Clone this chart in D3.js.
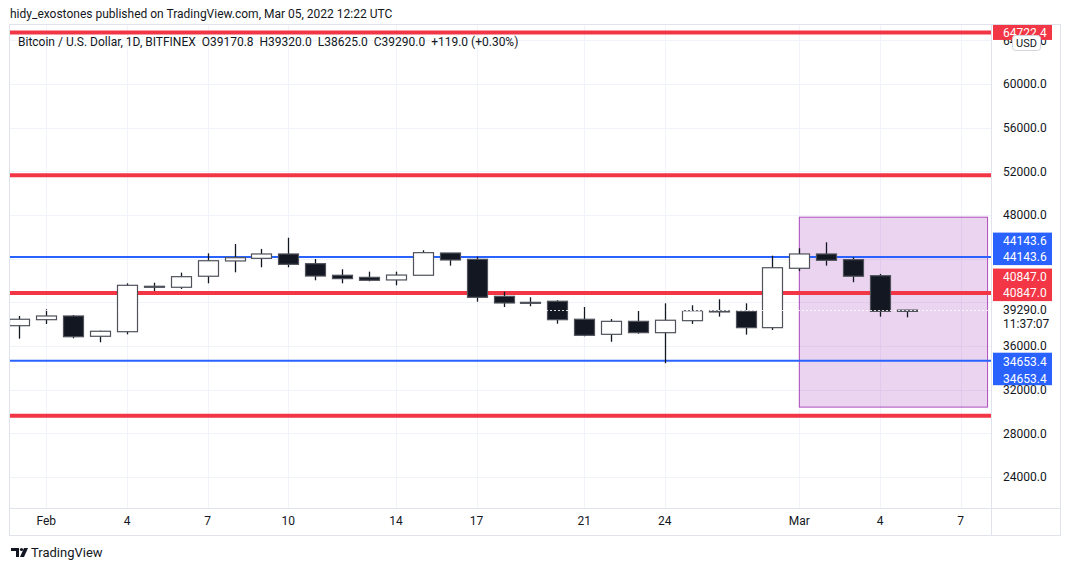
<!DOCTYPE html>
<html>
<head>
<meta charset="utf-8">
<script src="https://cdn.jsdelivr.net/npm/d3@7"></script>
<style>
  html, body { margin: 0; padding: 0; background: #fff; }
  svg { display: block; font-family: Roboto, "Noto Sans", sans-serif; }
</style>
</head>
<body>
<script>
// daily candles, BTC/USD, Jan 31 - Mar 5 2022
const dates = ["2022-01-31","2022-02-01","2022-02-02","2022-02-03","2022-02-04","2022-02-05","2022-02-06",
  "2022-02-07","2022-02-08","2022-02-09","2022-02-10","2022-02-11","2022-02-12","2022-02-13","2022-02-14",
  "2022-02-15","2022-02-16","2022-02-17","2022-02-18","2022-02-19","2022-02-20","2022-02-21","2022-02-22",
  "2022-02-23","2022-02-24","2022-02-25","2022-02-26","2022-02-27","2022-02-28","2022-03-01","2022-03-02",
  "2022-03-03","2022-03-04","2022-03-05"];
const opens  = [37860,38410,38750,36890,37310,41470,41380,42390,43790,44030,44430,43540,42480,42290,42050,
  42480,44520,43940,40550,40000,40100,38450,37070,38260,37220,38320,39210,39180,37680,43120,44430,43910,42440,39170.8];
const highs  = [38750,39360,38840,37400,41740,41800,42720,44490,45340,44890,45920,43970,43030,42810,42810,
  44770,44520,44180,40970,40460,40190,39570,38470,39210,39910,39730,40280,39910,44270,44950,45500,44130,42600,39320];
const lows   = [36670,38020,36710,36340,37070,41040,41220,41740,42750,43210,43210,42020,41740,41930,41560,
  42480,43360,40060,39570,39640,38040,36890,36390,37130,34420,38020,38690,37040,37470,42870,43360,41840,38690,38625];
const closes = [38450,38750,36850,37350,41560,41420,42350,43810,44090,44430,43480,42410,42170,42020,42500,
  44550,43880,40460,39940,39990,38410,36980,38260,37220,38360,39230,39120,37680,43170,44430,43850,42390,39180,39290];

const priceTicks = [24000,28000,32000,36000,40000,44000,48000,52000,56000,60000,64000];
const shownTicks = [24000,28000,32000,36000,48000,52000,56000,60000,64000];
const dateTicks = ["2022-02-01","2022-02-04","2022-02-07","2022-02-10","2022-02-14","2022-02-17",
  "2022-02-21","2022-02-24","2022-03-01","2022-03-04","2022-03-07"];
const dateLabels = ["Feb","4","7","10","14","17","21","24","Mar","4","7"];

const redLevels  = [64722.4, 51650, 40847.0, 29600];
const blueLevels = [44143.6, 34653.4];
const labelledRed  = [64722.4, 40847.0];
const labelledBlue = [44143.6, 34653.4];
const zoneDates  = ["2022-03-01","2022-03-08"];
const zonePrices = [47800, 30400];
const lastClose = 39290.0;
const countdown = "11:37:07";

const W = 1070, H = 571;
const plotL = 10, plotR = 991, plotT = 25, plotB = 508;
const parse = d3.utcParse("%Y-%m-%d");

const x = d3.scaleUtc().domain([parse("2022-02-04"), parse("2022-03-04")]).range([127, 880]);
const y = d3.scaleLinear().domain([24000, 60000]).range([477, 84]);
const dayW = x(parse("2022-02-05")) - x(parse("2022-02-04"));
const bodyW = Math.round(dayW * 0.75);

const candles = dates.map((d, i) => ({ date: parse(d), o: opens[i], h: highs[i], l: lows[i], c: closes[i] }));

const svg = d3.select("body").append("svg").attr("width", W).attr("height", H);
const fmt = d3.format(".1f");

// header
svg.append("text").attr("x", 10).attr("y", 18).attr("font-size", 12).attr("fill", "#131722")
   .text("hidy_exostones published on TradingView.com, Mar 05, 2022 12:22 UTC");

// frame
svg.append("rect").attr("x", plotL - 0.5).attr("y", plotT - 0.5).attr("width", 1061 - plotL).attr("height", 536 - plotT)
   .attr("fill", "#fff").attr("stroke", "#e0e3eb");
svg.append("line").attr("x1", plotR + 0.5).attr("x2", plotR + 0.5).attr("y1", plotT).attr("y2", 536).attr("stroke", "#e0e3eb");
svg.append("line").attr("x1", plotL).attr("x2", 1061).attr("y1", plotB + 0.5).attr("y2", plotB + 0.5).attr("stroke", "#e0e3eb");

const plot = svg.append("g");
plot.append("clipPath").attr("id", "clip").append("rect")
    .attr("x", plotL).attr("y", plotT).attr("width", plotR - plotL).attr("height", plotB - plotT);
const g = plot.append("g").attr("clip-path", "url(#clip)");

// grid
g.selectAll(".hg").data(priceTicks).enter().append("line")
 .attr("x1", plotL).attr("x2", plotR).attr("y1", d => Math.round(y(d)) + 0.5).attr("y2", d => Math.round(y(d)) + 0.5)
 .attr("stroke", "#f0f3fa");
g.selectAll(".vg").data(dateTicks).enter().append("line")
 .attr("x1", d => Math.round(x(parse(d))) + 0.5).attr("x2", d => Math.round(x(parse(d))) + 0.5)
 .attr("y1", plotT).attr("y2", plotB).attr("stroke", "#f0f3fa");

// zone
g.append("rect")
 .attr("x", x(parse(zoneDates[0]))).attr("y", y(zonePrices[0]))
 .attr("width", x(parse(zoneDates[1])) - x(parse(zoneDates[0])))
 .attr("height", y(zonePrices[1]) - y(zonePrices[0]))
 .attr("fill", "rgba(156,39,176,0.2)").attr("stroke", "#9c27b0").attr("stroke-opacity", 0.8);

// level lines
g.selectAll(".red").data(redLevels).enter().append("line")
 .attr("x1", plotL).attr("x2", plotR).attr("y1", d => y(d)).attr("y2", d => y(d))
 .attr("stroke", "#f23645").attr("stroke-width", 4);
g.selectAll(".blue").data(blueLevels).enter().append("line")
 .attr("x1", plotL).attr("x2", plotR).attr("y1", d => y(d)).attr("y2", d => y(d))
 .attr("stroke", "#2962ff").attr("stroke-width", 2);

// candles
const cg = g.selectAll(".candle").data(candles).enter().append("g");
cg.append("line")
  .attr("x1", d => Math.round(x(d.date)) + 0.5).attr("x2", d => Math.round(x(d.date)) + 0.5)
  .attr("y1", d => y(d.h)).attr("y2", d => y(d.l))
  .attr("stroke", "#131722").attr("stroke-width", 1.3);
cg.append("rect")
  .attr("x", d => Math.round(x(d.date) - bodyW / 2) + 0.5)
  .attr("y", d => y(Math.max(d.o, d.c)))
  .attr("width", bodyW)
  .attr("height", d => Math.max(1, Math.abs(y(d.o) - y(d.c))))
  .attr("fill", d => d.c >= d.o ? "#ffffff" : "#131722")
  .attr("stroke", d => d.c >= d.o ? "#4f525b" : "#4f525b")
  .attr("stroke-width", 1.2);

// last price dotted line
g.append("line").attr("x1", plotL).attr("x2", plotR)
 .attr("y1", Math.round(y(lastClose)) + 0.5).attr("y2", Math.round(y(lastClose)) + 0.5)
 .attr("stroke", "#ffffff").attr("stroke-opacity", 0.85).attr("stroke-dasharray", "2,2");

// price axis labels
const ax = svg.append("g").attr("font-size", 12).attr("fill", "#131722");
ax.selectAll(".pt").data(shownTicks).enter().append("text")
  .attr("x", 1003).attr("y", d => y(d)).attr("dy", "0.35em").text(d => fmt(d));

ax.append("text").attr("x", 1003).attr("y", y(lastClose)).attr("dy", "0.35em").text(fmt(lastClose));
ax.append("text").attr("x", 1003).attr("y", y(lastClose) + 13.5).attr("dy", "0.35em").text(countdown);

function levelLabel(v, color) {
  const yy = y(v);
  const down = v < lastClose;
  const rows = (v > 60000) ? [0] : (down ? [1.5, 18] : [-16.5, -0.5]);
  const top = (v > 60000) ? yy - 7.5 : (down ? yy - 8 : yy - 24.5);
  const h = (v > 60000) ? 15 : 32.5;
  ax.append("rect").attr("x", 993).attr("y", top).attr("width", 59).attr("height", h).attr("fill", color);
  rows.forEach(r => ax.append("text").attr("x", 1003).attr("y", yy + r).attr("dy", "0.35em")
     .attr("fill", "#fff").text(fmt(v)));
}
labelledBlue.forEach(v => levelLabel(v, "#2962ff"));
labelledRed.forEach(v => levelLabel(v, "#f23645"));

// USD badge
svg.append("rect").attr("x", 1012.5).attr("y", 35.5).attr("width", 28).attr("height", 15).attr("rx", 3)
   .attr("fill", "#fff").attr("stroke", "#d1d4dc");
svg.append("text").attr("x", 1026.5).attr("y", 43).attr("dy", "0.35em").attr("text-anchor", "middle")
   .attr("font-size", 11).attr("fill", "#131722").text("USD");

// legend
svg.append("text").attr("x", 18).attr("y", 42).attr("dy", "0.35em").attr("font-size", 12).attr("fill", "#131722")
   .style("white-space", "pre")
   .text("Bitcoin / U.S. Dollar, 1D, BITFINEX  O39170.8  H39320.0  L38625.0  C39290.0  +119.0 (+0.30%)");

// time axis
svg.append("g").attr("font-size", 12).attr("fill", "#131722")
   .selectAll("text").data(dateTicks).enter().append("text")
   .attr("x", d => x(parse(d))).attr("y", 521).attr("dy", "0.35em").attr("text-anchor", "middle")
   .text((d, i) => dateLabels[i]);

// logo
const logo = svg.append("g").attr("fill", "#131722");
logo.append("path").attr("d", "M11 548 h8 v9 h-3 v-6 h-5 z");
logo.append("circle").attr("cx", 21.5).attr("cy", 549.5).attr("r", 1.6);
logo.append("path").attr("d", "M24 548 h4 l-4 9 h-4 z");
svg.append("text").attr("x", 31).attr("y", 557).attr("font-size", 13).attr("fill", "#131722").text("TradingView");
</script>
</body>
</html>
